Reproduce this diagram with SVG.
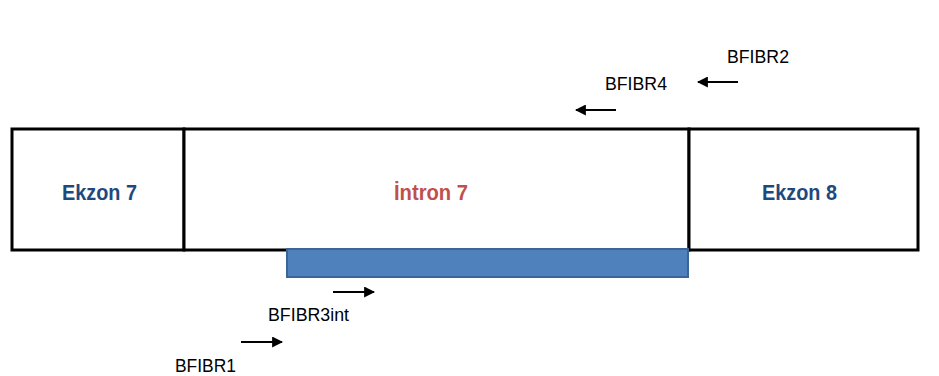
<svg xmlns="http://www.w3.org/2000/svg" width="939" height="376" viewBox="0 0 939 376">
<style>
.box{fill:#fff;stroke:#000;stroke-width:3}
.lbl{font-family:"Liberation Sans",Arial,sans-serif;font-weight:bold;font-size:22px;text-anchor:middle}
.ex{fill:#1F497D}
.in{fill:#C0504D}
.pr{font-family:"Liberation Sans",Arial,sans-serif;font-size:18px;fill:#000}
.ar{stroke:#000;stroke-width:2.2;fill:none}
</style>
<defs>
<marker id="ah" viewBox="0 0 10 10" refX="9" refY="5" markerWidth="11" markerHeight="11" markerUnits="userSpaceOnUse" orient="auto">
<path d="M0,0 L10,5 L0,10 Z" fill="#000"/>
</marker>
</defs>
<rect width="939" height="376" fill="#fff"/>
<g id="ekzon7">
<rect class="box" x="12" y="129" width="172" height="121"/>
<text class="lbl ex" x="99.5" y="200" textLength="75" lengthAdjust="spacingAndGlyphs">Ekzon 7</text>
</g>
<g id="intron7">
<rect class="box" x="184" y="129" width="505" height="121"/>
<text class="lbl in" x="431" y="200" textLength="74" lengthAdjust="spacingAndGlyphs">İntron 7</text>
</g>
<g id="ekzon8">
<rect class="box" x="689" y="129" width="229" height="121"/>
<text class="lbl ex" x="799.5" y="200" textLength="75" lengthAdjust="spacingAndGlyphs">Ekzon 8</text>
</g>
<g id="bar">
<rect x="287" y="249" width="401" height="28" fill="#4F81BD" stroke="#3B6597" stroke-width="2"/>
</g>
<g id="connectors">
<line class="ar" x1="738" y1="82" x2="698" y2="82" marker-end="url(#ah)"/>
<line class="ar" x1="616" y1="110" x2="576" y2="110" marker-end="url(#ah)"/>
<line class="ar" x1="333" y1="292" x2="374" y2="292" marker-end="url(#ah)"/>
<line class="ar" x1="241" y1="342" x2="282" y2="342" marker-end="url(#ah)"/>
</g>
<g id="bfibr2"><text class="pr" x="727" y="63" textLength="62" lengthAdjust="spacingAndGlyphs">BFIBR2</text></g>
<g id="bfibr4"><text class="pr" x="605" y="90" textLength="62" lengthAdjust="spacingAndGlyphs">BFIBR4</text></g>
<g id="bfibr3int"><text class="pr" x="268" y="321" textLength="81" lengthAdjust="spacingAndGlyphs">BFIBR3int</text></g>
<g id="bfibr1"><text class="pr" x="175" y="372" textLength="61" lengthAdjust="spacingAndGlyphs">BFIBR1</text></g>
</svg>
